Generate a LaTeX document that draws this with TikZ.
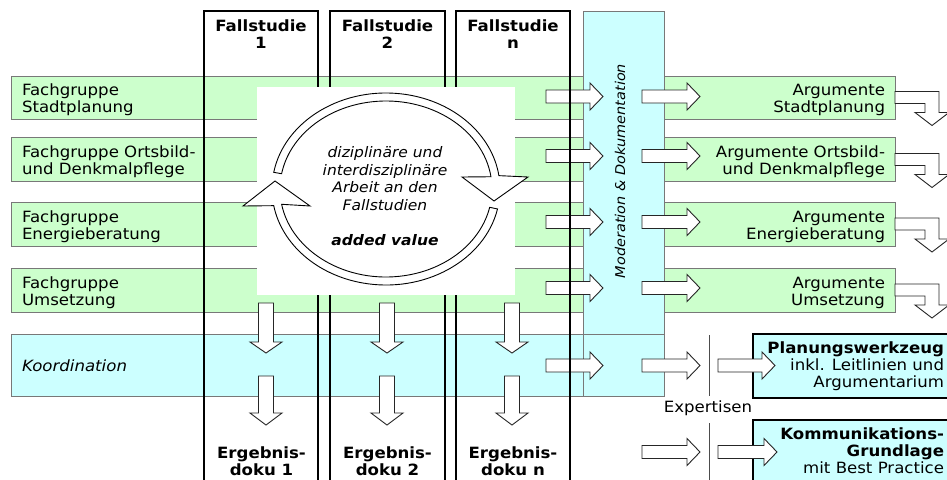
\documentclass[tikz,border=0pt]{standalone}
\usepackage{fontspec}
\setmainfont{DejaVu Sans}[FakeStretch=1.07]
\usetikzlibrary{calc}
\definecolor{grn}{RGB}{204,255,204}
\definecolor{cyn}{RGB}{204,255,255}
\definecolor{bord}{RGB}{120,120,120}
% horizontal block arrow: x start, x tip, y (downward)
\newcommand\hblk[3]{\draw[blk,shift={(#1,-#3)}] (0,6.5) -- ({#2-#1-13},6.5) -- ({#2-#1-13},13.5) -- ({#2-#1},0) -- ({#2-#1-13},-13.5) -- ({#2-#1-13},-6.5) -- (0,-6.5) -- cycle;}
% vertical block arrow: x, y top, y head base, y tip
\newcommand\vblk[4]{\draw[blk] ({#1-7.5},-#2) -- ({#1+7.5},-#2) -- ({#1+7.5},-#3) -- ({#1+16},-#3) -- (#1,-#4) -- ({#1-16},-#3) -- ({#1-7.5},-#3) -- cycle;}
% bent block arrow at right of a row, row centre y
\newcommand\bentblk[1]{\draw[blk,shift={(0,-#1)}] (895,6) -- (939,6) -- (939,-15) -- (949,-15) -- (932,-28) -- (915,-15) -- (925,-15) -- (925,-6) -- (895,-6) -- cycle;}
\begin{document}
\begin{tikzpicture}[x=1pt,y=1pt,
  every node/.style={inner sep=0pt,outer sep=0pt},
  txt/.style={font=\fontsize{15.5}{17}\selectfont},
  btxt/.style={font=\fontsize{15.5}{16.5}\selectfont\bfseries},
  band/.style={draw=bord,line width=0.8pt},
  colline/.style={draw=black,line width=2.2pt},
  blk/.style={draw=black!85,fill=white,line width=0.9pt,line join=miter},
  ring/.style={draw=black,fill=white,line width=0.9pt},
  outbox/.style={draw=black,fill=cyn,line width=2.2pt},
  expline/.style={draw=black!70,line width=1pt}]
\useasboundingbox (0,0) rectangle (947,-479);
\begin{scope}
\clip (0,0) rectangle (947,-479);
% left bands
\filldraw[band,fill=grn] (11,-76) rectangle (583,-119);
\filldraw[band,fill=grn] (11,-137) rectangle (583,-181);
\filldraw[band,fill=grn] (11,-202) rectangle (583,-246);
\filldraw[band,fill=grn] (11,-268) rectangle (583,-312);
% coordination and moderation
\fill[cyn] (11,-334) rectangle (664,-396);
\fill[cyn] (583,-11) rectangle (664,-396);
\draw[band] (11,-334) rectangle (664,-396);
\draw[band] (583,-11) rectangle (664,-396);
% right bands
\filldraw[band,fill=grn] (664,-76) rectangle (895,-119);
\filldraw[band,fill=grn] (664,-137) rectangle (895,-181);
\filldraw[band,fill=grn] (664,-202) rectangle (895,-246);
\filldraw[band,fill=grn] (664,-268) rectangle (895,-312);
% output boxes
\draw[outbox] (753,-334) rectangle (965,-398);
\draw[outbox] (753,-420) rectangle (965,-495);
% expertise separators
\draw[expline] (709,-335) -- (709,-396);
\draw[expline] (709,-423) -- (709,-482);
% horizontal arrows
\foreach \yy in {96.5,156,222,288,365.5}{\hblk{546}{603}{\yy}\hblk{642}{700}{\yy}}
\hblk{718}{775}{365.5}
\hblk{642}{700}{452}
\hblk{718}{777}{452}
% vertical arrows
\foreach \xx in {266,387,512}{\vblk{\xx}{303}{342}{353}\vblk{\xx}{376}{413}{425}}
% bent arrows
\bentblk{97.5}\bentblk{159.5}\bentblk{224}\bentblk{290}
% case study columns
\draw[colline] (204,-485) -- (204,-11) -- (318,-11) -- (318,-485);
\draw[colline] (330,-485) -- (330,-11) -- (445,-11) -- (445,-485);
\draw[colline] (456,-485) -- (456,-11) -- (570,-11) -- (570,-485);
% white field
\fill[white] (257,-87) rectangle (515,-295);
% cycle ring
\coordinate (C) at (386,-189);
\draw[ring] ($(C)+(170:114 and 96)$) arc[start angle=170,end angle=8,x radius=114,y radius=96]
  -- (528,-177) -- (494,-201) -- (462,-177)
  -- ($(C)+(8:106 and 88)$) arc[start angle=8,end angle=170,x radius=106,y radius=88] -- cycle;
\draw[ring] ($(C)+(-12:114 and 96)$) arc[start angle=-12,end angle=-170,x radius=114,y radius=96]
  -- (243,-206) -- (275,-181) -- (310,-206)
  -- ($(C)+(-170:106 and 88)$) arc[start angle=-170,end angle=-12,x radius=106,y radius=88] -- cycle;
\end{scope}
% texts
\node[btxt,align=center] (fs1) at (261,-34) {Fallstudie\\1};
\node[btxt,align=center] (fs2) at (387.5,-34) {Fallstudie\\2};
\node[btxt,align=center] (fsn) at (513,-34) {Fallstudie\\n};
\node[btxt,align=center] (eg1) at (261.5,-461) {Ergebnis-\\doku 1};
\node[btxt,align=center] (eg2) at (387.5,-461) {Ergebnis-\\doku 2};
\node[btxt,align=center] (egn) at (513,-461) {Ergebnis-\\doku n};
\node[txt,anchor=west,align=left] (fg1) at (22,-100) {Fachgruppe\\Stadtplanung};
\node[txt,anchor=west,align=left] (fg2) at (22,-162) {Fachgruppe Ortsbild-\\und Denkmalpflege};
\node[txt,anchor=west,align=left] (fg3) at (22,-226.5) {Fachgruppe\\Energieberatung};
\node[txt,anchor=west,align=left] (fg4) at (22,-292.5) {Fachgruppe\\Umsetzung};
\node[txt,anchor=west,font=\fontsize{15.5}{17}\selectfont\itshape] (koord) at (22,-366) {Koordination};
\node[txt,anchor=east,align=right] (ar1) at (885,-100) {Argumente\\Stadtplanung};
\node[txt,anchor=east,align=right] (ar2) at (885,-162) {Argumente Ortsbild-\\und Denkmalpflege};
\node[txt,anchor=east,align=right] (ar3) at (885,-226.5) {Argumente\\Energieberatung};
\node[txt,anchor=east,align=right] (ar4) at (885,-292.5) {Argumente\\Umsetzung};
\node[rotate=90,font=\fontsize{13.5}{16}\selectfont\itshape] (mod) at (620,-171) {Moderation \& Dokumentation};
\node[align=center,font=\fontsize{14.5}{17.5}\selectfont\itshape] (cyc) at (385,-196)
  {diziplinäre und\\interdisziplinäre\\Arbeit an den\\Fallstudien\\[17.5pt]\textbf{added value}};
\node[txt] (exp) at (708,-408) {Expertisen};
\node[txt,anchor=east,align=right] (pw) at (944,-366) {\textbf{Planungswerkzeug}\\inkl. Leitlinien und\\Argumentarium};
\node[txt,anchor=east,align=right] (kg) at (944,-451) {\textbf{Kommunikations-}\\\textbf{Grundlage}\\mit Best Practice};
\end{tikzpicture}
\end{document}
